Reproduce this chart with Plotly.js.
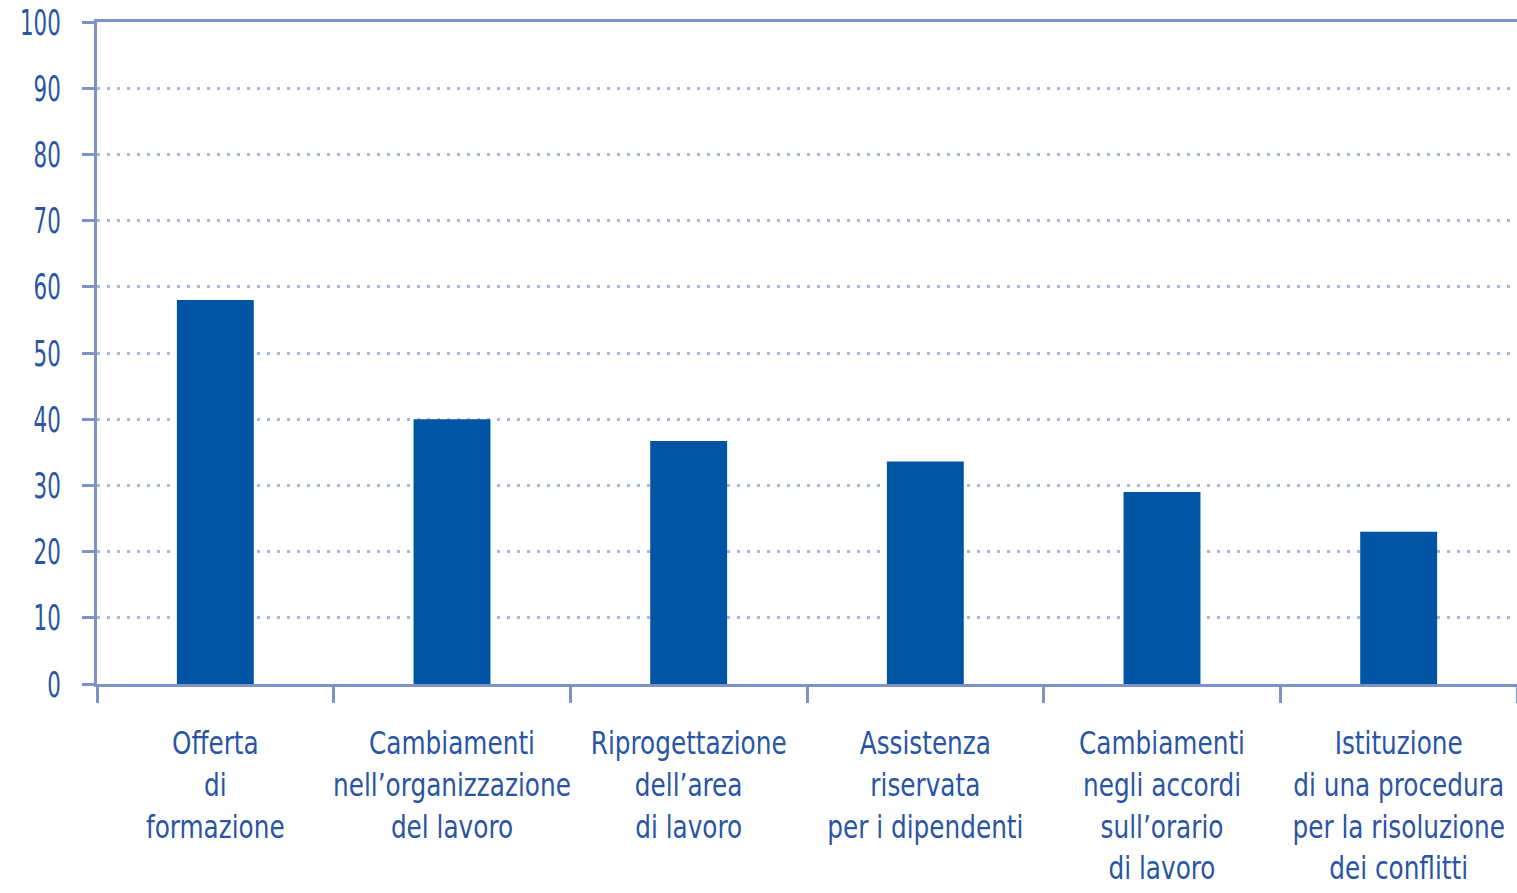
<!DOCTYPE html>
<html>
<head>
<meta charset="utf-8">
<script src="https://cdn.plot.ly/plotly-3.0.1.min.js"></script>
<style>
  html, body { margin: 0; padding: 0; background: #ffffff; }
  #chart { width: 1517px; height: 893px; }
</style>
</head>
<body>
<div id="chart"></div>
<script>
const categories = [
  "Offerta<br>di<br>formazione",
  "Cambiamenti<br>nell’organizzazione<br>del lavoro",
  "Riprogettazione<br>dell’area<br>di lavoro",
  "Assistenza<br>riservata<br>per i dipendenti",
  "Cambiamenti<br>negli accordi<br>sull’orario<br>di lavoro",
  "Istituzione<br>di una procedura<br>per la risoluzione<br>dei conflitti"
];
const values = [58, 40, 36.7, 33.6, 29, 23];
const yTickVals = [0, 10, 20, 30, 40, 50, 60, 70, 80, 90, 100];

const axisColor = "#7f92c8";
const gridColor = "#aab6de";
const textColor = "#2a55a4";
const fontFamily = "'DejaVu Sans Condensed', 'Liberation Sans Narrow', sans-serif";

const trace = {
  type: "bar",
  x: categories,
  y: values,
  width: 0.325,
  marker: { color: "#0054a4", line: { width: 0 } },
  hoverinfo: "skip"
};

const layout = {
  width: 1517,
  height: 893,
  margin: { l: 97, r: 0, t: 22, b: 209 },
  paper_bgcolor: "#ffffff",
  plot_bgcolor: "#ffffff",
  showlegend: false,
  font: { family: fontFamily, color: textColor },
  xaxis: {
    type: "category",
    range: [-0.5, 5.5],
    showline: true,
    linecolor: axisColor,
    linewidth: 3,
    mirror: true,
    showgrid: false,
    ticks: "outside",
    tickson: "boundaries",
    ticklen: 16,
    tickwidth: 3,
    tickcolor: axisColor,
    tickfont: { family: fontFamily, size: 32, color: textColor },
    tickangle: 0,
    ticklabelstandoff: 29,
    fixedrange: true
  },
  yaxis: {
    range: [0, 100],
    tickvals: yTickVals,
    ticktext: yTickVals.map(String),
    showline: true,
    linecolor: axisColor,
    linewidth: 3,
    zeroline: false,
    showgrid: true,
    gridcolor: gridColor,
    gridwidth: 3,
    griddash: "3px,7px",
    ticks: "outside",
    ticklen: 12,
    tickwidth: 3,
    tickcolor: axisColor,
    tickfont: { family: fontFamily, size: 36, color: textColor },
    ticklabelstandoff: 14,
    fixedrange: true
  },
  bargap: 0.675
};

function condense(selector, sx) {
  document.querySelectorAll(selector).forEach(function (t) {
    const ax = parseFloat(t.getAttribute("x")) || 0;
    const prev = t.getAttribute("transform") || "";
    t.setAttribute("transform",
      prev + " translate(" + ax + ",0) scale(" + sx + ",1) translate(" + (-ax) + ",0)");
  });
}

Plotly.newPlot("chart", [trace], layout, { displayModeBar: false, staticPlot: true })
  .then(function () {
    condense("#chart .xtick text", 0.86);
    condense("#chart .ytick text", 0.66);
  });
</script>
</body>
</html>
